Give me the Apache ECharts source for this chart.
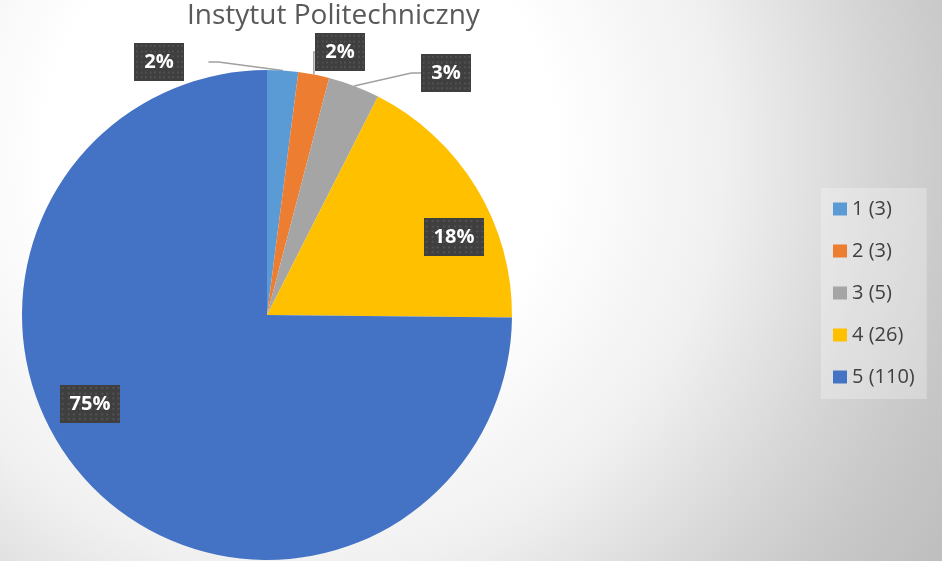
<!DOCTYPE html>
<html>
<head>
  <meta charset="utf-8">
  <script src="https://cdn.jsdelivr.net/npm/echarts/dist/echarts.min.js"></script>
  <style>
    html, body { margin: 0; padding: 0; }
    #main { width: 942px; height: 561px; }
  </style>
  <title>Instytut Politechniczny</title>
  <script type="text/javascript">
    // grades and how many people got each one
    const grades = ['1', '2', '3', '4', '5'];
    const counts = [3, 3, 5, 26, 110];
    const colors = ['#5B9BD5', '#ED7D31', '#A5A5A5', '#FFC000', '#4472C4'];

    // where Excel put the data labels (centre of the dark box), px
    const labelSpots = [[159, 62], [340, 52], [446, 73], [454, 237], [90, 404]];

    function dotted(w, h) {
      // dark box with a faint dot grid, like the Excel label style
      var c = document.createElement('canvas');
      c.width = w; c.height = h;
      var ctx = c.getContext('2d');
      ctx.fillStyle = '#3f3f3f';
      ctx.fillRect(0, 0, w, h);
      ctx.fillStyle = '#535353';
      for (let y = 2; y < h; y += 5.5) {
        for (let x = 2; x < w; x += 5.5) {
          ctx.fillRect(Math.round(x), Math.round(y), 2, 2);
        }
      }
      return c;
    }

    function init() {
      var chart = echarts.init(document.getElementById('main'));
      var total = counts.reduce((a, b) => a + b, 0);
      var data = grades.map(function (g, i) {
        return {
          name: g,
          value: counts[i],
          labelLine: { show: i < 3 }
        };
      });
      var option = {
        animation: false,
        backgroundColor: {
          type: 'radial', x: 300, y: 150, r: 770, global: true,
          colorStops: [
            { offset: 0, color: '#ffffff' },
            { offset: 0.33, color: '#ffffff' },
            { offset: 0.55, color: '#f0f0f0' },
            { offset: 0.75, color: '#d5d5d5' },
            { offset: 0.86, color: '#c8c8c8' },
            { offset: 1, color: '#bdbdbd' }
          ]
        },
        color: colors,
        title: {
          text: 'Instytut Politechniczny',
          left: 182, top: -3,
          textStyle: { fontFamily: 'Open Sans', fontSize: 28, fontWeight: 'normal', color: '#595959' }
        },
        legend: {
          orient: 'vertical',
          left: 821, top: 188,
          padding: [11, 12, 12, 12],
          itemWidth: 14, itemHeight: 13, itemGap: 22,
          backgroundColor: 'rgba(255,255,255,0.28)',
          icon: 'rect',
          textStyle: { fontFamily: 'Open Sans', fontSize: 20, lineHeight: 20, color: '#404040' },
          formatter: function (name) {
            return name + ' (' + counts[grades.indexOf(name)] + ')';
          }
        },
        series: [{
          type: 'pie',
          center: [267, 315],
          radius: 245,
          startAngle: 90,
          clockwise: true,
          avoidLabelOverlap: false,
          emphasis: { disabled: true },
          itemStyle: { borderWidth: 0 },
          label: {
            show: true,
            position: 'outside',
            formatter: function (p) { return Math.round(p.value / total * 100) + '%'; },
            color: '#ffffff',
            fontFamily: 'Open Sans',
            fontWeight: 'bold',
            fontSize: 20,
            lineHeight: 20,
            padding: [9, 10],
            backgroundColor: { image: dotted(60, 40) },
            shadowColor: 'rgba(0,0,0,0.45)',
            shadowBlur: 6,
            shadowOffsetX: 3,
            shadowOffsetY: 3
          },
          labelLine: {
            show: true,
            length: 10, length2: 10,
            lineStyle: { color: '#a0a0a0', width: 1.5 }
          },
          labelLayout: function (p) {
            var s = labelSpots[p.dataIndex];
            return { x: s[0], y: s[1], align: 'center', verticalAlign: 'middle' };
          },
          data: data
        }]
      };
      chart.setOption(option);
    }
  </script>
</head>
<body onload="init()">
  <div id="main"></div>
</body>
</html>
